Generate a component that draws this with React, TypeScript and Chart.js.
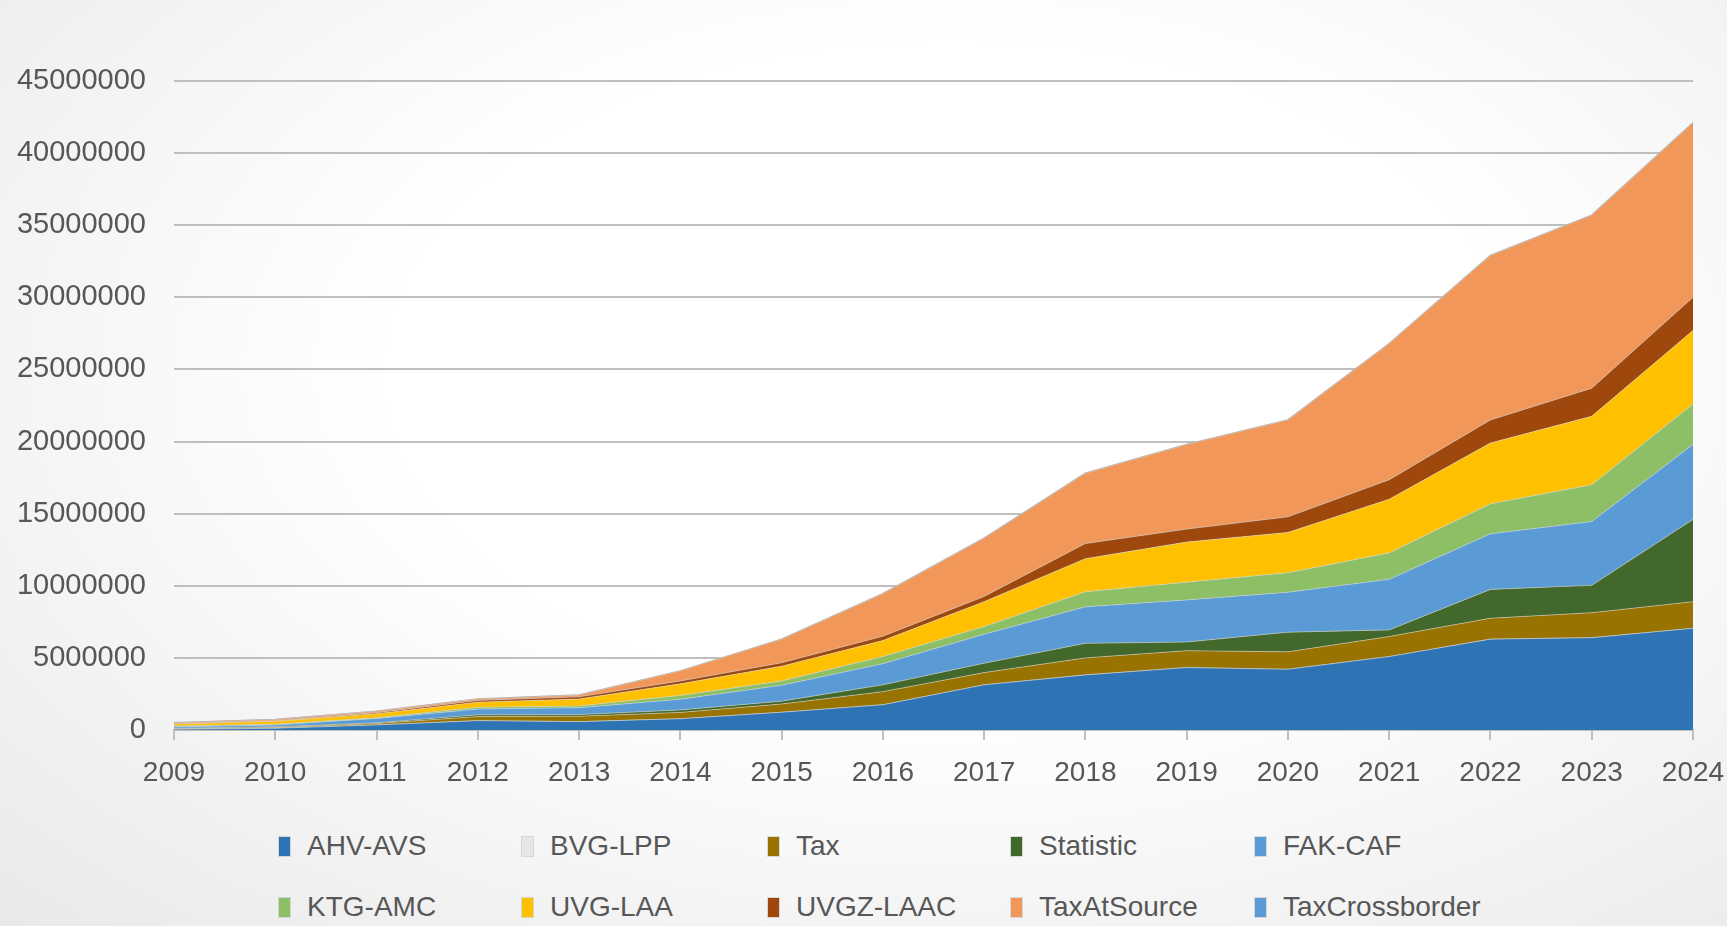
import React, { useEffect, useRef } from "react";
import { Chart, registerables } from "chart.js";

Chart.register(...registerables);

const years = ["2009","2010","2011","2012","2013","2014","2015","2016","2017","2018","2019","2020","2021","2022","2023","2024"];

const ahvAvs = [50000,120000,350000,650000,580000,780000,1230000,1750000,3130000,3820000,4330000,4210000,5090000,6300000,6400000,7050000];
const bvgLpp = [0,0,0,0,0,0,0,0,0,0,0,0,0,0,0,0];
const tax = [30000,50000,100000,280000,370000,440000,570000,910000,850000,1180000,1170000,1210000,1390000,1450000,1730000,1850000];
const statistic = [40000,50000,50000,120000,120000,170000,200000,470000,650000,1010000,600000,1360000,460000,2000000,1900000,5700000];
const fakCaf = [100000,130000,300000,400000,480000,740000,1100000,1470000,2010000,2530000,2920000,2770000,3510000,3850000,4420000,5200000];
const ktgAmc = [50000,50000,50000,120000,120000,270000,300000,490000,530000,1040000,1230000,1350000,1830000,2080000,2550000,2800000];
const uvgLaa = [150000,200000,280000,360000,480000,800000,1020000,1110000,1730000,2300000,2780000,2800000,3720000,4220000,4750000,5100000];
const uvgzLaac = [30000,30000,70000,120000,150000,200000,240000,300000,360000,1050000,900000,1080000,1350000,1600000,1950000,2300000];
const taxAtSource = [50000,90000,100000,100000,120000,700000,1640000,2950000,4040000,4870000,5870000,6720000,9450000,11400000,12000000,12100000];
const taxCrossborder = [0,0,0,0,0,0,0,0,0,0,0,0,0,0,0,0];

const seriesNames = ["AHV-AVS","BVG-LPP","Tax","Statistic","FAK-CAF","KTG-AMC","UVG-LAA","UVGZ-LAAC","TaxAtSource","TaxCrossborder"];
const seriesValues = [ahvAvs,bvgLpp,tax,statistic,fakCaf,ktgAmc,uvgLaa,uvgzLaac,taxAtSource,taxCrossborder];
const seriesColors = ["#2E74B5","#E7E6E6","#997300","#43682B","#5B9BD5","#8DBF66","#FFC000","#9E480E","#F1975A","#5B9BD5"];

const yTicks = [0,5000000,10000000,15000000,20000000,25000000,30000000,35000000,40000000,45000000];

const FONT = "'Liberation Sans', Arial, sans-serif";
const TEXT = "#575757";

export default function App() {
  const ref = useRef<HTMLCanvasElement | null>(null);

  useEffect(() => {
    if (!ref.current) return;
    const datasets = seriesNames.map((name, i) => ({
      label: name,
      data: seriesValues[i],
      backgroundColor: seriesColors[i],
      borderColor: i === seriesNames.length - 1 ? "#a6a6a6" : "rgba(215,215,215,0.55)",
      borderWidth: i === seriesNames.length - 1 ? 1.5 : 1,
      fill: i === 0 ? "origin" : "-1",
      pointRadius: 0,
      tension: 0,
    }));
    const chart = new Chart(ref.current, {
      type: "line",
      data: { labels: years, datasets },
      options: {
        animation: false,
        responsive: false,
        layout: { padding: { top: 81, right: 34, left: 0, bottom: 0 } },
        plugins: { legend: { display: false }, tooltip: { enabled: false } },
        scales: {
          x: {
            offset: false,
            grid: { drawOnChartArea: false, drawTicks: true, tickLength: 10, color: "#bfbfbf", lineWidth: 2 },
            border: { display: true, color: "#bfbfbf", width: 2 },
            ticks: { color: TEXT, font: { family: FONT, size: 28 }, padding: 16, maxRotation: 0, autoSkip: false },
            afterFit: (scale: any) => { scale.height = 70; scale.paddingLeft = 0; scale.paddingRight = 0; },
          },
          y: {
            stacked: true,
            min: 0,
            max: 45000000,
            afterBuildTicks: (scale: any) => { scale.ticks = yTicks.map((v) => ({ value: v })); },
            grid: { color: "#bfbfbf", lineWidth: 2, drawTicks: false },
            border: { display: false },
            ticks: { color: TEXT, font: { family: FONT, size: 29 }, padding: 28, callback: (v: any) => String(v) },
            afterFit: (scale: any) => { scale.width = 174; scale.paddingTop = 0; scale.paddingBottom = 0; },
          },
        },
      },
    });
    return () => chart.destroy();
  }, []);

  const colLeft = [279, 522, 768, 1011, 1255];
  const rowTop = [846, 907];

  return (
    <div style={{ position: "absolute", left: 0, top: 0, width: 1727, height: 926, overflow: "hidden",
      background: "radial-gradient(ellipse at 55% 40%, #ffffff 0%, #ffffff 42%, #e9e9e9 100%)" }}>
      <canvas ref={ref} width={1727} height={800} style={{ position: "absolute", left: 0, top: 0 }} />
      {seriesNames.map((name, i) => {
        const row = Math.floor(i / 5);
        const col = i % 5;
        return (
          <div key={name} style={{ position: "absolute", left: colLeft[col], top: rowTop[row] - 17, height: 34,
            display: "flex", alignItems: "center", fontFamily: FONT, fontSize: 28, color: TEXT, whiteSpace: "nowrap" }}>
            <span style={{ display: "inline-block", width: 11, height: 19, background: seriesColors[i],
              boxShadow: "0 0 0 1px rgba(160,160,160,0.35)", marginRight: 17 }} />
            <span>{name}</span>
          </div>
        );
      })}
    </div>
  );
}
